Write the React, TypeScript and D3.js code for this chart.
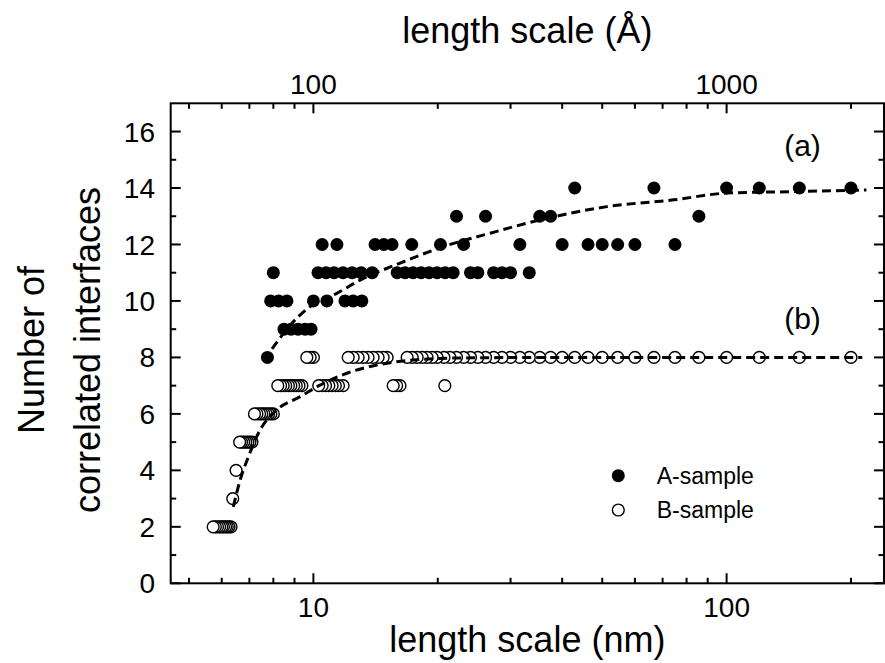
import React from 'react';
import * as d3 from 'd3';

// ---- data (length scale in nm, number of correlated interfaces) ----
const A_N14 = [42.9, 66.7, 100, 120, 150, 200];
const A_N13 = [22.2, 26.1, 35.3, 37.5, 85.7];
const A_N12 = [10.5, 11.4, 14.1, 14.8, 15.5, 17.3, 20.3, 23.1, 31.6, 40.0, 46.2, 50.0, 54.5, 60.0, 75.0];
const A_N11 = [8.0, 10.26, 10.73, 11.22, 11.8, 12.41, 13.05, 13.88, 15.95, 16.67, 17.43, 18.23, 19.06, 19.93, 20.84, 21.79, 24.0, 25.0, 27.3, 28.6, 30.0, 33.3];
const A_N10 = [7.88, 8.24, 8.63, 10.0, 10.78, 11.92, 12.48, 13.1];
const A_N9 = [8.49, 8.83, 9.18, 9.55, 9.87];
const A_N8 = [7.74];

const B_N8 = [9.64, 9.82, 10.0, 12.14, 12.48, 12.83, 13.19, 13.56, 13.95, 14.34, 14.75, 15.08, 16.86, 17.34, 17.83, 18.33, 18.84, 19.38, 19.93, 20.7, 21.4, 22.2, 23.1, 24.0, 25.0, 26.1, 27.3, 28.6, 30.0, 31.6, 33.3, 35.3, 37.5, 40.0, 42.9, 46.2, 50.0, 54.5, 60.0, 66.7, 75.0, 85.7, 100, 120, 150, 200];
const B_N7 = [8.2, 8.33, 8.45, 8.57, 8.7, 8.82, 8.96, 9.09, 9.23, 9.38, 10.3, 10.5, 10.7, 10.9, 11.1, 11.3, 11.5, 11.8, 15.6, 15.9, 16.2, 20.8];
const B_N6 = [7.2, 7.3, 7.41, 7.5, 7.59, 7.69, 7.79, 7.89, 8.0];
const B_N5 = [6.63, 6.7, 6.78, 6.86, 6.94, 7.02, 7.1];
const B_N4 = [6.5];
const B_N3 = [6.38];
const B_N2 = [5.72, 5.79, 5.86, 5.93, 6.0, 6.06, 6.13, 6.19, 6.25, 6.32];

const fitA_x = [7.94, 8.87, 9.82, 11.39, 12.98, 16.21, 20.61, 26.78, 35.39, 51.33, 74.41, 100.2, 143.6, 218];
const fitA_y = [8.3, 9.21, 9.8, 10.27, 10.74, 11.34, 11.92, 12.4, 12.87, 13.34, 13.58, 13.82, 13.87, 13.93];
const fitB_x = [6.4, 6.65, 6.96, 7.43, 8.15, 9.29, 10.38, 12.05, 14.24, 17.46, 22.66, 40, 80, 213];
const fitB_y = [2.71, 3.66, 4.48, 5.43, 6.14, 6.61, 7.02, 7.44, 7.73, 7.91, 7.98, 8.0, 8.0, 8.0];

const xMajorNm = [10, 100];
const xMinorNm = [5, 6, 7, 8, 9, 20, 30, 40, 50, 60, 70, 80, 90, 200];
const topMajorA = [100, 1000];
const topMinorA = [50, 60, 70, 80, 90, 200, 300, 400, 500, 600, 700, 800, 900, 2000];
const yMajor = [0, 2, 4, 6, 8, 10, 12, 14, 16];
const yMinor = [1, 3, 5, 7, 9, 11, 13, 15];

const aRows: [number, number[]][] = [[14, A_N14], [13, A_N13], [12, A_N12], [11, A_N11], [10, A_N10], [9, A_N9], [8, A_N8]];
const bRows: [number, number[]][] = [[8, B_N8], [7, B_N7], [6, B_N6], [5, B_N5], [4, B_N4], [3, B_N3], [2, B_N2]];

const W = 885;
const H = 663;
const L = 170.7, R = 884, T = 103.3, B = 583.3;
const FONT = "'Liberation Sans', Arial, Helvetica, sans-serif";

export default function App() {
  const x = d3.scaleLog().domain([4.515, 240.4]).range([L, R]);
  const xTop = d3.scaleLog().domain([45.15, 2404]).range([L, R]);
  const y = d3.scaleLinear().domain([0, 17]).range([B, T]);

  const aPts = aRows.flatMap(([n, xs]) => xs.map((v) => ({ x: v, y: n })));
  const bPts = bRows
    .flatMap(([n, xs]) => xs.map((v) => ({ x: v, y: n })))
    .sort((p, q) => q.x - p.x);

  const line = d3
    .line<[number, number]>()
    .x((d) => x(d[0]))
    .y((d) => y(d[1]))
    .curve(d3.curveMonotoneX);
  const pathA = line(fitA_x.map((v, i) => [v, fitA_y[i]] as [number, number])) || '';
  const pathB = line(fitB_x.map((v, i) => [v, fitB_y[i]] as [number, number])) || '';

  const r = 6.5;
  const major = 10;
  const minor = 5.5;

  return (
    <svg
      width={W}
      height={H}
      style={{ position: 'absolute', left: 0, top: 0, display: 'block', background: '#fff' }}
      fontFamily={FONT}
    >
      <rect x={0} y={0} width={W} height={H} fill="#fff" />

      {/* data A */}
      {aPts.map((p, i) => (
        <circle key={'a' + i} cx={x(p.x)} cy={y(p.y)} r={r} fill="#000" />
      ))}
      {/* data B */}
      {bPts.map((p, i) => (
        <circle key={'b' + i} cx={x(p.x)} cy={y(p.y)} r={r - 0.6} fill="#fff" stroke="#000" strokeWidth={1.4} />
      ))}

      {/* fit curves */}
      <path d={pathA} fill="none" stroke="#000" strokeWidth={3} strokeDasharray="9,5" />
      <path d={pathB} fill="none" stroke="#000" strokeWidth={3} strokeDasharray="9,5" />

      {/* frame */}
      <rect x={L} y={T} width={R - L} height={B - T} fill="none" stroke="#000" strokeWidth={2} />

      {/* bottom ticks */}
      {xMajorNm.map((v) => (
        <g key={'xb' + v}>
          <line x1={x(v)} x2={x(v)} y1={B} y2={B - major} stroke="#000" strokeWidth={2} />
          <text x={x(v)} y={617} fontSize={28} textAnchor="middle">{v}</text>
        </g>
      ))}
      {xMinorNm.map((v) => (
        <line key={'xbm' + v} x1={x(v)} x2={x(v)} y1={B} y2={B - minor} stroke="#000" strokeWidth={2} />
      ))}
      {/* top ticks */}
      {topMajorA.map((v) => (
        <g key={'xt' + v}>
          <line x1={xTop(v)} x2={xTop(v)} y1={T} y2={T + major} stroke="#000" strokeWidth={2} />
          <text x={xTop(v)} y={94} fontSize={28} textAnchor="middle">{v}</text>
        </g>
      ))}
      {topMinorA.map((v) => (
        <line key={'xtm' + v} x1={xTop(v)} x2={xTop(v)} y1={T} y2={T + minor} stroke="#000" strokeWidth={2} />
      ))}
      {/* left / right ticks */}
      {yMajor.map((v) => (
        <g key={'y' + v}>
          <line x1={L} x2={L + major} y1={y(v)} y2={y(v)} stroke="#000" strokeWidth={2} />
          <line x1={R} x2={R - major} y1={y(v)} y2={y(v)} stroke="#000" strokeWidth={2} />
          <text x={155} y={y(v)} dy="0.36em" fontSize={28} textAnchor="end">{v}</text>
        </g>
      ))}
      {yMinor.map((v) => (
        <g key={'ym' + v}>
          <line x1={L} x2={L + minor} y1={y(v)} y2={y(v)} stroke="#000" strokeWidth={2} />
          <line x1={R} x2={R - minor} y1={y(v)} y2={y(v)} stroke="#000" strokeWidth={2} />
        </g>
      ))}

      {/* axis titles */}
      <text x={(L + R) / 2} y={652} fontSize={36} textAnchor="middle">length scale (nm)</text>
      <text x={(L + R) / 2} y={43} fontSize={36} textAnchor="middle">length scale (Å)</text>
      <text transform="translate(44,350) rotate(-90)" fontSize={36} textAnchor="middle">Number of</text>
      <text transform="translate(100,350) rotate(-90)" fontSize={36} textAnchor="middle">correlated interfaces</text>

      {/* panel labels */}
      <text x={802.5} y={155.5} fontSize={30} textAnchor="middle">(a)</text>
      <text x={802.5} y={328.5} fontSize={30} textAnchor="middle">(b)</text>

      {/* legend */}
      <circle cx={618.3} cy={475.7} r={r} fill="#000" />
      <text x={656.7} y={475.7} dy="0.36em" fontSize={23}>A-sample</text>
      <circle cx={618.3} cy={510} r={r - 0.6} fill="#fff" stroke="#000" strokeWidth={1.4} />
      <text x={656.7} y={510} dy="0.36em" fontSize={23}>B-sample</text>
    </svg>
  );
}
